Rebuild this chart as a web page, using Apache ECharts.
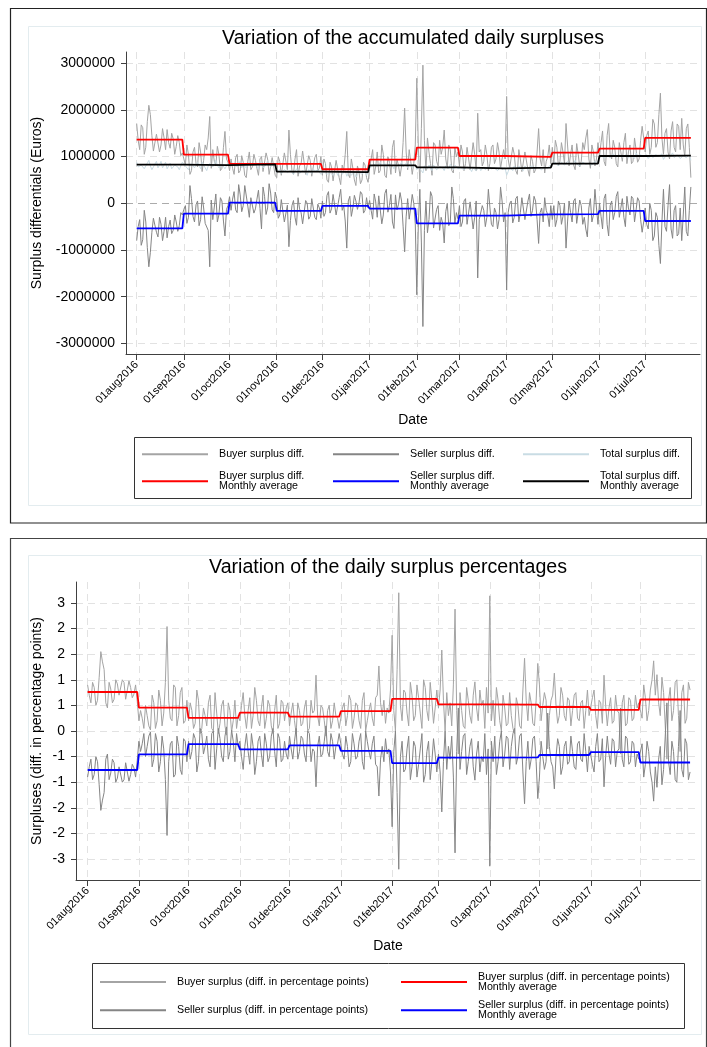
<!DOCTYPE html>
<html>
<head>
<meta charset="utf-8">
<title>Variation of daily surpluses</title>
<script src="https://cdn.jsdelivr.net/npm/echarts@6.0.0/dist/echarts.min.js"></script>
<style>
  html, body { margin: 0; padding: 0; background: #fff; }
  #chart { width: 707px; height: 1047px; }
</style>
</head>
<body>
<div id="chart"></div>
<script>
// tick labels of the date axis (first day of each month)
const monthTicks = ['01aug2016', '01sep2016', '01oct2016', '01nov2016', '01dec2016', '01jan2017',
                    '01feb2017', '01mar2017', '01apr2017', '01may2017', '01jun2017', '01jul2017'];

// ---- panel 1: daily values in millions of euros, 01aug2016 .. 31jul2017, one row per month ----
const buyerDiff = [
  1.71, 1.35, 1.15, 1.68, 1.62, 1.05, 1.20, 1.75, 2.10, 1.90, 1.45, 1.12, 1.10, 1.48, 1.52, 1.10, 1.25, 1.60, 1.40, 1.15, 1.58, 1.30, 1.18, 1.50, 1.38, 1.05, 1.22, 1.45, 1.30, 1.02, 1.08,
  0.95, 0.82, 1.25, 1.05, 0.62, 0.70, 1.10, 1.20, 0.85, 0.78, 1.30, 1.10, 0.68, 0.92, 1.25, 1.15, 1.40, 1.86, 0.75, 1.15, 0.90, 0.80, 1.22, 1.05, 0.70, 0.75, 1.20, 1.54, 0.95, 0.88,
  0.70, 0.95, 0.75, 0.62, 0.98, 1.05, 0.65, 0.70, 1.02, 0.88, 0.60, 0.55, 0.90, 1.10, 0.72, 0.78, 1.05, 0.92, 0.75, 0.60, 0.95, 1.00, 0.68, 0.72, 1.08, 0.95, 0.62, 0.65, 0.98, 0.98, 0.60,
  0.55, 1.00, 0.90, 0.60, 0.62, 1.08, 1.05, 0.72, 1.57, 1.05, 0.70, 0.62, 0.95, 1.15, 0.58, 0.80, 0.85, 1.12, 1.10, 0.62, 0.65, 1.02, 0.92, 0.58, 0.60, 0.98, 1.05, 0.70, 0.75, 1.00,
  0.60, 0.95, 0.85, 0.50, 0.45, 0.88, 0.78, 0.48, 0.52, 0.92, 0.90, 0.55, 0.40, 0.82, 0.70, 1.05, 1.54, 0.62, 0.55, 0.95, 0.75, 0.50, 0.38, 0.80, 0.68, 0.42, 0.50, 0.88, 0.82, 0.55, 0.45,
  0.75, 0.95, 1.15, 0.62, 0.78, 1.10, 0.65, 0.70, 1.25, 1.05, 0.60, 0.55, 1.00, 0.88, 0.62, 1.20, 1.35, 0.65, 0.95, 0.80, 0.58, 0.80, 1.30, 2.04, 1.10, 0.72, 1.15, 0.90, 0.62, 0.85, 1.25,
  2.68, 1.20, 0.45, 1.60, 2.96, 1.35, 0.70, 1.40, 1.10, 0.85, 0.60, 1.30, 1.25, 0.90, 0.80, 1.35, 1.05, 1.20, 1.57, 0.95, 0.75, 1.25, 1.15, 0.70, 0.65, 1.20, 1.00, 1.10,
  0.80, 1.25, 1.10, 0.70, 0.85, 1.20, 1.20, 0.72, 0.75, 1.30, 1.05, 0.70, 1.93, 1.10, 1.15, 0.80, 0.90, 1.25, 1.05, 0.70, 0.85, 1.20, 1.25, 0.85, 0.95, 1.30, 1.10, 0.75, 0.78, 1.15, 0.95,
  2.29, 0.95, 0.75, 0.75, 1.20, 1.05, 0.70, 0.62, 1.15, 0.95, 0.68, 0.70, 1.10, 1.08, 0.72, 0.58, 1.02, 0.90, 0.65, 0.72, 1.10, 1.60, 0.95, 0.80, 1.15, 0.65, 0.90, 1.00, 1.25, 0.85,
  1.20, 0.85, 1.35, 1.20, 0.80, 0.90, 1.30, 1.10, 0.85, 1.71, 1.25, 0.80, 1.05, 1.25, 0.82, 0.72, 1.28, 1.05, 0.78, 0.90, 1.30, 1.15, 1.40, 1.58, 0.95, 0.75, 1.25, 1.10, 0.80, 0.95, 1.30,
  1.00, 1.30, 1.55, 0.90, 0.80, 1.45, 1.71, 1.05, 0.95, 1.35, 1.20, 0.85, 0.78, 1.30, 1.10, 0.90, 1.30, 1.50, 0.85, 1.10, 1.25, 0.85, 0.90, 1.40, 1.15, 0.88, 0.95, 1.35, 1.65, 1.40,
  1.10, 1.45, 1.55, 1.05, 1.20, 1.80, 1.70, 1.20, 1.30, 1.90, 2.36, 1.40, 1.05, 1.50, 1.60, 1.10, 0.95, 1.55, 1.75, 1.20, 1.10, 1.70, 1.65, 1.15, 1.82, 1.25, 1.00, 1.60, 1.70, 1.20, 0.55
];
const sellerDiff = [
  -0.80, -0.50, -0.35, -0.90, -0.78, -0.15, -0.40, -0.95, -1.36, -1.05, -0.62, -0.32, -0.28, -0.62, -0.72, -0.30, -0.45, -0.80, -0.60, -0.30, -0.74, -0.50, -0.36, -0.65, -0.58, -0.25, -0.40, -0.60, -0.48, -0.20, -0.25,
  -0.13, -0.05, -0.43, -0.30, 0.38, 0.10, -0.28, -0.40, -0.03, 0.05, -0.48, -0.35, 0.14, -0.10, -0.43, -0.40, -0.58, -1.36, 0.07, -0.35, -0.08, 0.20, -0.40, -0.25, 0.12, 0.05, -0.38, -0.70, -0.13, -0.05,
  0.14, -0.15, 0.09, 0.25, -0.14, -0.20, 0.40, 0.18, -0.18, -0.05, 0.38, 0.35, -0.06, -0.30, 0.12, 0.10, -0.21, -0.12, 0.09, 0.28, -0.11, -0.55, 0.35, 0.15, -0.24, -0.10, 0.42, 0.22, -0.14, -0.20, 0.24,
  0.10, -0.32, -0.25, 0.08, 0.05, -0.40, -0.40, -0.04, -0.93, -0.37, -0.05, 0.06, -0.30, -0.47, 0.12, -0.12, -0.20, -0.44, -0.45, 0.06, 0.00, -0.34, -0.28, 0.10, 0.08, -0.30, -0.35, -0.02, -0.10, -0.32,
  0.05, -0.28, -0.20, 0.17, 0.25, -0.21, -0.12, 0.19, 0.18, -0.25, -0.28, 0.12, 0.30, -0.15, -0.05, -0.38, -0.96, 0.05, 0.15, -0.28, -0.10, 0.17, 0.05, -0.13, 0.00, 0.25, 0.20, -0.21, -0.15, 0.12, -0.10,
  0.06, -0.15, -0.34, 0.20, 0.03, -0.30, 0.16, 0.15, -0.44, -0.25, 0.21, 0.30, -0.19, -0.05, 0.19, -0.40, -0.54, 0.18, -0.14, -0.02, 0.23, 0.05, -0.49, -1.04, -0.29, 0.10, -0.34, -0.10, 0.19, 0.00, -0.44,
  -1.96, -0.43, 0.30, -0.83, -2.64, -0.58, 0.05, -0.63, -0.35, 0.25, 0.15, -0.53, -0.50, -0.13, -0.05, -0.58, -0.30, -0.43, -0.85, -0.18, 0.00, -0.48, -0.40, 0.35, 0.10, -0.43, -0.20, -0.33,
  -0.05, -0.50, -0.40, 0.05, 0.10, -0.45, -0.45, 0.03, 0.05, -0.55, -0.30, 0.05, -1.60, -0.35, -0.38, -0.05, -0.15, -0.50, -0.30, 0.30, -0.08, -0.45, -0.50, -0.10, -0.20, -0.55, -0.35, 0.35, 0.05, -0.40, -0.20,
  -1.86, -0.20, 0.00, 0.05, -0.42, -0.30, 0.10, 0.15, -0.40, -0.20, 0.12, 0.10, -0.35, -0.35, 0.05, 0.20, -0.28, -0.15, 0.15, 0.05, -0.35, -0.86, -0.20, -0.10, -0.40, 0.12, -0.15, -0.25, -0.50, -0.05,
  -0.35, -0.05, -0.50, -0.35, 0.05, -0.05, -0.45, -0.28, 0.00, -0.96, -0.40, 0.05, -0.20, -0.40, 0.05, 0.10, -0.43, -0.20, 0.07, -0.05, -0.45, -0.30, -0.55, -0.72, -0.10, 0.10, -0.40, -0.25, 0.30, -0.10, -0.45,
  0.00, -0.28, -0.55, 0.10, 0.20, -0.45, -0.70, -0.05, 0.05, -0.35, -0.20, 0.15, 0.25, -0.30, -0.10, 0.10, -0.30, -0.50, 0.15, -0.10, -0.25, 0.15, 0.10, -0.40, -0.15, 0.12, 0.05, -0.35, -0.62, -0.40,
  -0.10, -0.45, -0.55, 0.00, -0.15, -0.80, -0.70, -0.20, -0.30, -0.90, -1.29, -0.40, 0.30, -0.50, -0.60, -0.05, 0.40, -0.55, -0.75, -0.15, -0.05, -0.70, -0.65, -0.10, -0.80, -0.25, 0.35, -0.60, -0.70, -0.15, 0.35
];
const totalDiff = [
  0.88, 0.78, 0.74, 0.82, 0.86, 0.74, 0.78, 0.86, 0.92, 0.80, 0.72, 0.78, 0.84, 0.90, 0.76, 0.82, 0.90, 0.76, 0.80, 0.88, 0.74, 0.80, 0.86, 0.74, 0.78, 0.82, 0.84, 0.78, 0.72, 0.80, 0.88,
  0.84, 0.80, 0.78, 0.72, 0.80, 0.85, 0.86, 0.76, 0.78, 0.88, 0.80, 0.74, 0.88, 0.82, 0.76, 0.70, 0.80, 0.86, 0.84, 0.78, 0.74, 0.92, 0.82, 0.76, 0.80, 0.84, 0.88, 0.74, 0.78, 0.86,
  0.82, 0.80, 0.78, 0.86, 0.88, 0.78, 0.80, 0.90, 0.76, 0.82, 0.84, 0.76, 0.80, 0.88, 0.88, 0.80, 0.78, 0.84, 0.84, 0.74, 0.90, 0.86, 0.76, 0.80, 0.82, 0.92, 0.88, 0.78, 0.80, 0.84, 0.76,
  0.66, 0.70, 0.72, 0.64, 0.60, 0.72, 0.70, 0.66, 0.64, 0.70, 0.74, 0.62, 0.62, 0.74, 0.70, 0.64, 0.66, 0.70, 0.72, 0.66, 0.60, 0.72, 0.68, 0.64, 0.74, 0.68, 0.64, 0.72, 0.70, 0.62,
  0.62, 0.68, 0.68, 0.62, 0.58, 0.66, 0.70, 0.60, 0.64, 0.70, 0.60, 0.66, 0.72, 0.62, 0.66, 0.70, 0.58, 0.64, 0.70, 0.60, 0.64, 0.68, 0.56, 0.62, 0.68, 0.70, 0.62, 0.66, 0.72, 0.60, 0.66,
  0.76, 0.80, 0.80, 0.84, 0.84, 0.78, 0.78, 0.88, 0.80, 0.82, 0.86, 0.76, 0.78, 0.86, 0.82, 0.80, 0.74, 0.84, 0.84, 0.78, 0.80, 0.88, 0.78, 0.82, 0.86, 0.76, 0.80, 0.86, 0.76, 0.80, 0.82,
  0.72, 0.78, 0.75, 0.70, 0.65, 0.80, 0.78, 0.74, 0.82, 0.76, 0.70, 0.82, 0.80, 0.72, 0.74, 0.78, 0.82, 0.76, 0.70, 0.80, 0.78, 0.74, 0.84, 0.78, 0.72, 0.82, 0.80, 0.74,
  0.72, 0.76, 0.78, 0.72, 0.70, 0.78, 0.76, 0.74, 0.68, 0.76, 0.80, 0.70, 0.74, 0.78, 0.70, 0.74, 0.78, 0.72, 0.72, 0.78, 0.76, 0.74, 0.70, 0.76, 0.80, 0.70, 0.74, 0.78, 0.72, 0.74, 0.76,
  0.60, 0.68, 0.78, 0.74, 0.70, 0.80, 0.76, 0.72, 0.80, 0.74, 0.78, 0.70, 0.80, 0.76, 0.72, 0.78, 0.76, 0.80, 0.72, 0.78, 0.74, 0.76, 0.80, 0.72, 0.70, 0.78, 0.76, 0.74, 0.80, 0.78,
  0.84, 0.80, 0.88, 0.86, 0.80, 0.82, 0.88, 0.90, 0.82, 0.84, 0.90, 0.88, 0.84, 0.82, 0.86, 0.92, 0.84, 0.86, 0.80, 0.84, 0.88, 0.90, 0.84, 0.82, 0.86, 0.88, 0.82, 0.86, 0.90, 0.84, 0.86,
  0.98, 1.04, 1.02, 0.96, 0.96, 1.02, 1.04, 0.98, 1.00, 1.06, 1.06, 0.98, 0.98, 1.04, 1.04, 0.98, 1.00, 1.04, 1.06, 0.98, 0.96, 1.02, 1.02, 0.96, 1.08, 1.02, 0.98, 1.04, 1.04, 1.00,
  1.00, 1.04, 0.96, 1.00, 1.04, 0.98, 0.98, 1.04, 1.06, 1.00, 1.00, 1.06, 0.94, 0.98, 1.04, 1.00, 1.00, 1.04, 1.08, 0.98, 0.98, 1.04, 1.02, 0.96, 0.96, 1.02, 1.06, 0.98, 1.00, 1.04, 0.92
];
// monthly averages (aug2016 .. jul2017)
const buyerDiffAvg  = [1.364, 1.043, 0.843, 0.843, 0.730, 0.936, 1.193, 1.014, 0.993, 1.086, 1.171, 1.400];
const sellerDiffAvg = [-0.536, -0.221, 0.014, -0.164, -0.057, -0.114, -0.430, -0.264, -0.236, -0.230, -0.164, -0.379];
const totalDiffAvg  = [0.830, 0.820, 0.836, 0.679, 0.667, 0.814, 0.771, 0.750, 0.764, 0.850, 1.014, 1.021];

// ---- panel 2: daily values in percentage points, 01aug2016 .. 31jul2017 ----
const buyerPct = [
  0.90, 0.70, 0.55, 0.95, 0.85, 0.50, 0.60, 1.05, 1.55, 1.35, 1.20, 0.55, 0.45, 0.95, 0.82, 0.55, 0.62, 1.00, 0.92, 0.70, 0.68, 1.00, 0.95, 0.62, 0.60, 0.98, 0.85, 0.65, 0.72, 0.90, 0.58,
  0.20, 0.40, 0.25, 0.05, 0.50, 0.30, 0.10, 0.02, 0.70, 0.55, 0.05, 0.20, 0.80, 0.60, 0.10, 0.35, 0.95, 2.04, 0.60, 0.25, 0.20, 0.90, 0.85, 0.10, 0.30, 0.75, 0.85, 0.15, 0.20, 0.60,
  0.20, 0.55, 0.40, 0.05, 0.15, 0.80, 0.60, -0.05, 0.05, 0.45, 0.30, 0.10, 0.55, 0.70, 0.05, 0.00, 0.75, 0.35, -0.05, 0.15, 0.50, 0.60, 0.10, -0.08, 0.55, 0.40, -0.02, 0.20, 0.60, 0.05, 0.30,
  0.20, 0.50, 0.75, 0.30, 0.05, 0.40, 0.65, 0.05, 0.30, 0.85, 0.60, 0.20, 0.10, 0.45, 0.70, 0.05, 0.25, 0.60, 0.50, 0.10, -0.05, 0.40, 0.70, 0.05, 0.15, 0.60, 0.55, 0.20, 0.45, 0.55,
  0.10, 0.35, 0.55, 0.20, -0.05, 0.55, 0.40, 0.10, 0.15, 0.45, 0.60, 0.00, 0.05, 0.60, 0.35, 0.40, 1.09, 0.30, 0.10, 0.50, 0.45, 0.20, -0.10, 0.40, 0.50, 0.05, 0.20, 0.55, 0.30, 0.25, 0.05,
  0.25, 0.45, 0.55, 0.10, 0.30, 0.70, 0.60, 0.05, 0.25, 0.55, 0.50, 0.20, 0.05, 0.60, 0.75, 0.00, 0.20, 0.40, 0.55, 0.25, 0.10, 0.65, 0.70, 1.27, 0.55, 0.30, 0.60, 0.15, 0.45, 0.35, 0.80,
  1.87, 0.40, 0.00, 1.20, 2.70, 0.50, 0.20, 0.80, 0.75, 0.35, 0.10, 0.95, 0.70, 0.20, 0.30, 0.90, 0.65, 0.35, 0.05, 1.00, 0.85, 0.40, 0.20, 0.95, 0.60, 0.15, 0.45, 0.80,
  0.45, 0.80, 1.58, 0.60, 0.00, 0.75, 0.30, 0.55, 0.10, 0.90, 2.38, 0.40, -0.45, 0.75, 0.40, 0.10, 0.05, 0.85, 0.60, 0.30, 0.15, 0.70, 0.96, 0.45, 0.20, 0.80, 0.50, 0.60, 0.05, 0.85, 0.35,
  2.64, 0.20, 0.60, 0.10, 0.85, 0.60, 0.20, 0.00, 0.70, 0.45, 0.10, 0.15, 0.75, 0.30, 0.05, -0.05, 0.65, 0.50, 0.10, 0.05, 0.80, 1.42, 0.60, 0.20, 0.75, 0.55, 0.15, 0.10, 0.60, 1.32,
  0.90, 0.20, 0.50, 0.75, 0.60, -0.35, 0.30, 0.60, 0.70, 1.13, 0.50, 0.15, 0.30, 0.85, 0.70, 0.30, 0.20, 0.65, 0.60, 0.10, 0.40, 0.70, 0.75, 0.25, 0.20, 0.55, 0.60, 0.05, 0.40, 0.80, 0.30,
  0.30, 0.65, 0.80, 0.30, 0.05, 0.60, 0.55, 0.15, 1.09, 0.50, 0.10, 0.45, 0.65, 0.15, 0.20, 0.70, 0.40, 0.35, -0.45, 0.55, 0.70, 0.10, 0.15, 0.65, 0.60, 0.20, 0.25, 0.70, 0.45, 0.55,
  0.55, 0.25, 0.90, 0.65, 0.20, 0.40, 0.80, 1.00, 1.37, 0.70, 1.10, 0.55, 0.30, 1.05, 0.75, 0.10, -0.55, 0.60, 0.85, 0.20, 0.40, 0.95, 1.00, 0.30, -0.40, 0.75, 0.90, 0.15, 0.25, 0.95, 0.80
];
const sellerPct = [
  -0.90, -0.70, -0.55, -0.95, -0.85, -0.50, -0.60, -1.05, -1.55, -1.35, -1.20, -0.55, -0.45, -0.95, -0.82, -0.55, -0.62, -1.00, -0.92, -0.70, -0.68, -1.00, -0.95, -0.62, -0.60, -0.98, -0.85, -0.65, -0.72, -0.90, -0.58,
  -0.20, -0.40, -0.25, -0.05, -0.50, -0.30, -0.10, -0.02, -0.70, -0.55, -0.05, -0.20, -0.80, -0.60, -0.10, -0.35, -0.95, -2.04, -0.60, -0.25, -0.20, -0.90, -0.85, -0.10, -0.30, -0.75, -0.85, -0.15, -0.20, -0.60,
  -0.20, -0.55, -0.40, -0.05, -0.15, -0.80, -0.60, 0.05, -0.05, -0.45, -0.30, -0.10, -0.55, -0.70, -0.05, 0.00, -0.75, -0.35, 0.05, -0.15, -0.50, -0.60, -0.10, 0.08, -0.55, -0.40, 0.02, -0.20, -0.60, -0.05, -0.30,
  -0.20, -0.50, -0.75, -0.30, -0.05, -0.40, -0.65, -0.05, -0.30, -0.85, -0.60, -0.20, -0.10, -0.45, -0.70, -0.05, -0.25, -0.60, -0.50, -0.10, 0.05, -0.40, -0.70, -0.05, -0.15, -0.60, -0.55, -0.20, -0.45, -0.55,
  -0.10, -0.35, -0.55, -0.20, 0.05, -0.55, -0.40, -0.10, -0.15, -0.45, -0.60, 0.00, -0.05, -0.60, -0.35, -0.40, -1.09, -0.30, -0.10, -0.50, -0.45, -0.20, 0.10, -0.40, -0.50, -0.05, -0.20, -0.55, -0.30, -0.25, -0.05,
  -0.25, -0.45, -0.55, -0.10, -0.30, -0.70, -0.60, -0.05, -0.25, -0.55, -0.50, -0.20, -0.05, -0.60, -0.75, 0.00, -0.20, -0.40, -0.55, -0.25, -0.10, -0.65, -0.70, -1.27, -0.55, -0.30, -0.60, -0.15, -0.45, -0.35, -0.80,
  -1.87, -0.40, 0.00, -1.20, -2.70, -0.50, -0.20, -0.80, -0.75, -0.35, -0.10, -0.95, -0.70, -0.20, -0.30, -0.90, -0.65, -0.35, -0.05, -1.00, -0.85, -0.40, -0.20, -0.95, -0.60, -0.15, -0.45, -0.80,
  -0.45, -0.80, -1.58, -0.60, 0.00, -0.75, -0.30, -0.55, -0.10, -0.90, -2.38, -0.40, 0.45, -0.75, -0.40, -0.10, -0.05, -0.85, -0.60, -0.30, -0.15, -0.70, -0.96, -0.45, -0.20, -0.80, -0.50, -0.60, -0.05, -0.85, -0.35,
  -2.64, -0.20, -0.60, -0.10, -0.85, -0.60, -0.20, 0.00, -0.70, -0.45, -0.10, -0.15, -0.75, -0.30, -0.05, 0.05, -0.65, -0.50, -0.10, -0.05, -0.80, -1.42, -0.60, -0.20, -0.75, -0.55, -0.15, -0.10, -0.60, -1.32,
  -0.90, -0.20, -0.50, -0.75, -0.60, 0.35, -0.30, -0.60, -0.70, -1.13, -0.50, -0.15, -0.30, -0.85, -0.70, -0.30, -0.20, -0.65, -0.60, -0.10, -0.40, -0.70, -0.75, -0.25, -0.20, -0.55, -0.60, -0.05, -0.40, -0.80, -0.30,
  -0.30, -0.65, -0.80, -0.30, -0.05, -0.60, -0.55, -0.15, -1.09, -0.50, -0.10, -0.45, -0.65, -0.15, -0.20, -0.70, -0.40, -0.35, 0.45, -0.55, -0.70, -0.10, -0.15, -0.65, -0.60, -0.20, -0.25, -0.70, -0.45, -0.55,
  -0.55, -0.25, -0.90, -0.65, -0.20, -0.40, -0.80, -1.00, -1.37, -0.70, -1.10, -0.55, -0.30, -1.05, -0.75, -0.10, 0.55, -0.60, -0.85, -0.20, -0.40, -0.95, -1.00, -0.30, 0.40, -0.75, -0.90, -0.15, -0.25, -0.95, -0.80
];
const buyerPctAvg  = [0.762, 0.456, 0.257, 0.358, 0.280, 0.387, 0.627, 0.520, 0.517, 0.469, 0.414, 0.615];
const sellerPctAvg = [-0.762, -0.456, -0.257, -0.358, -0.280, -0.387, -0.627, -0.520, -0.517, -0.469, -0.414, -0.615];

// y axis ticks
const yTicks1 = [-3, -2, -1, 0, 1, 2, 3];
const yTickLabels1 = ['-3000000', '-2000000', '-1000000', '0', '1000000', '2000000', '3000000'];
const yTicks2 = [-2.5, -2, -1.5, -1, -0.5, 0, 0.5, 1, 1.5, 2, 2.5];
const yTickLabels2 = ['-3', '-2', '-2', '-1', '-1', '0', '1', '1', '2', '2', '3'];

const FONT = '"Liberation Sans", Arial, sans-serif';
const DAY = 86400000;
const day0 = new Date(2016, 7, 1).getTime();
// x values are days since 01aug2016
function dayOf(y, m, d) { return Math.round((new Date(y, m, d).getTime() - day0) / DAY); }
const tickDays = monthTicks.map((_, m) => dayOf(2016, 7 + m, 1));
const xMin = -7, xMax = 370;

function daily(values) {
    return values.map((v, i) => [i, v]);
}
function monthly(avgs) {
    let out = [];
    avgs.forEach((v, m) => {
        out.push([dayOf(2016, 7 + m, 1), v]);
        out.push([dayOf(2016, 8 + m, 0), v]);   // last day of the month
    });
    return out;
}
function nearest(list, v) {
    let best = 0;
    list.forEach((t, i) => { if (Math.abs(t - v) < Math.abs(list[best] - v)) best = i; });
    return best;
}

function makeX(gi) {
    return {
        type: 'value', gridIndex: gi, min: xMin, max: xMax,
        axisLine: { onZero: false, lineStyle: { color: '#404040', width: 1 } },
        axisTick: { show: true, customValues: tickDays, length: 6, lineStyle: { color: '#404040' } },
        axisLabel: {
            customValues: tickDays, rotate: 45, margin: 9, color: '#000',
            fontFamily: FONT, fontSize: 11,
            formatter: v => monthTicks[nearest(tickDays, v)]
        },
        splitLine: { show: true, lineStyle: { color: '#e2e2e2', width: 1, type: [7, 5] } }
    };
}
function makeY(gi, min, max, ticks, labels, colors) {
    return {
        type: 'value', gridIndex: gi, min: min, max: max,
        axisLine: { show: true, onZero: false, lineStyle: { color: '#404040', width: 1 } },
        axisTick: { show: true, customValues: ticks, length: 5, lineStyle: { color: '#404040' } },
        axisLabel: {
            customValues: ticks, margin: 11, color: '#000', fontFamily: FONT, fontSize: 14,
            formatter: v => labels[nearest(ticks, v)]
        },
        splitLine: { show: true, lineStyle: { color: colors, width: 1, type: [7, 5] } }
    };
}
function line(name, data, color, width, gi) {
    return {
        name: name, type: 'line', data: data, xAxisIndex: gi, yAxisIndex: gi,
        color: color, symbol: 'none', showSymbol: false, silent: true,
        lineStyle: { color: color, width: width }, itemStyle: { color: color }
    };
}
function legendItem(name, left, top) {
    return {
        data: [name], left: left, top: top, padding: 0, itemGap: 0,
        itemWidth: 66, itemHeight: 2, icon: 'rect', selectedMode: false,
        textStyle: { fontFamily: FONT, fontSize: 10.7, lineHeight: 10.5, color: '#000', padding: [0, 0, 0, 6] }
    };
}
function box(x, y, w, h, stroke, lw) {
    return { type: 'rect', silent: true, shape: { x: x, y: y, width: w, height: h },
             style: { fill: 'none', stroke: stroke, lineWidth: lw } };
}
function label(text, x, y, size, rot) {
    return { type: 'text', silent: true, x: x, y: y, rotation: rot || 0,
             style: { text: text, fontFamily: FONT, fontSize: size, fill: '#000', align: 'center', verticalAlign: 'middle' } };
}

const L1 = ['Buyer surplus diff.', 'Seller surplus diff.', 'Total surplus diff.',
            'Buyer surplus diff.\nMonthly average', 'Seller surplus diff.\nMonthly average', 'Total surplus diff.\nMonthly average'];
const L2 = ['Buyer surplus (diff. in percentage points)', 'Seller surplus (diff. in percentage points)',
            'Buyer surplus (diff. in percentage points)\nMonthly average', 'Seller surplus (diff. in percentage points)\nMonthly average'];

const GRAY1 = '#a4a4a4', GRAY2 = '#858585', LIGHT = '#c9dce4';
const light = '#e2e2e2';

let chart = echarts.init(document.getElementById('chart'), null, { renderer: 'canvas' });
chart.setOption({
    animation: false,
    backgroundColor: '#fff',
    grid: [
        { left: 126, top: 52, width: 574, height: 302, outerBoundsMode: 'none' },
        { left: 76, top: 582, width: 624, height: 298, outerBoundsMode: 'none' }
    ],
    xAxis: [makeX(0), makeX(1)],
    yAxis: [
        makeY(0, -3.229, 3.242, yTicks1, yTickLabels1, [light, light, light, '#ababab', light, light, light]),
        makeY(1, -2.91, 2.91, yTicks2, yTickLabels2, light)
    ],
    legend: [
        legendItem(L1[0], 142, 448.75), legendItem(L1[1], 333, 448.75), legendItem(L1[2], 523, 448.75),
        legendItem(L1[3], 142, 470.5), legendItem(L1[4], 333, 470.5), legendItem(L1[5], 523, 470.5),
        legendItem(L2[0], 100, 976.45), legendItem(L2[2], 401, 971.2),
        legendItem(L2[1], 100, 1004.75), legendItem(L2[3], 401, 999.5)
    ],
    series: [
        line(L1[0], daily(buyerDiff), GRAY1, 1, 0),
        line(L1[1], daily(sellerDiff), GRAY2, 1, 0),
        line(L1[2], daily(totalDiff), LIGHT, 1, 0),
        line(L1[3], monthly(buyerDiffAvg), '#ff0000', 1.8, 0),
        line(L1[4], monthly(sellerDiffAvg), '#0000ff', 1.8, 0),
        line(L1[5], monthly(totalDiffAvg), '#000000', 1.8, 0),
        line(L2[0], daily(buyerPct), GRAY1, 1, 1),
        line(L2[1], daily(sellerPct), GRAY2, 1, 1),
        line(L2[2], monthly(buyerPctAvg), '#ff0000', 1.8, 1),
        line(L2[3], monthly(sellerPctAvg), '#0000ff', 1.8, 1)
    ],
    graphic: [
        box(10.5, 8.5, 696, 514.5, '#222', 1.2),
        box(28.5, 26.5, 673, 479, '#e3ecef', 1),
        box(134.5, 437.5, 557, 61, '#333', 1),
        box(10.5, 538.5, 696, 520, '#444', 1.2),
        box(28.5, 555.5, 673, 479, '#e3ecef', 1),
        box(92.5, 963.5, 592, 65, '#333', 1),
        label('Variation of the accumulated daily surpluses', 413, 38.7, 19.6),
        label('Variation of the daily surplus percentages', 388, 567.7, 19.6),
        label('Date', 413, 420, 14),
        label('Date', 388, 946, 14),
        label('Surplus differentials (Euros)', 37, 203, 14, Math.PI / 2),
        label('Surpluses (diff. in percentage points)', 37, 731, 14, Math.PI / 2)
    ]
});
</script>
</body>
</html>
